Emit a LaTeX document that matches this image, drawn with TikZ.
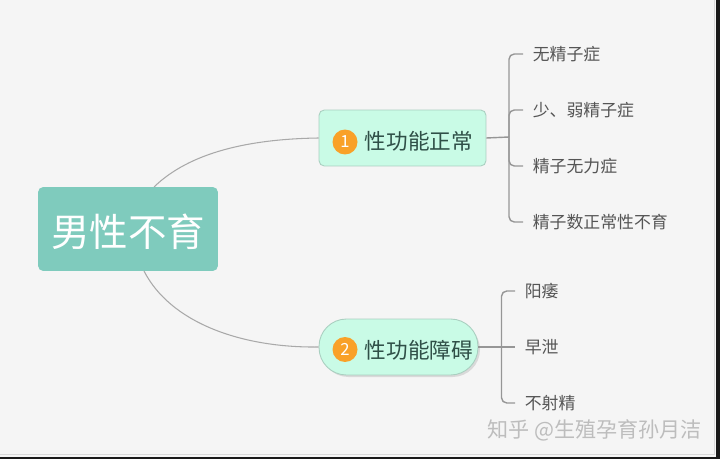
\documentclass[tikz,border=0pt]{standalone}
\usepackage{fontspec}
\setmainfont{Noto Sans CJK SC}
\usepackage{xcolor}
\definecolor{pagebg}{HTML}{F5F5F5}
\definecolor{rootfill}{HTML}{7FCBBD}
\definecolor{topicfill}{HTML}{C9FBE6}
\definecolor{topicline}{HTML}{A9CFC0}
\definecolor{badgefill}{HTML}{F9A128}
\definecolor{topictext}{HTML}{2F4F47}
\definecolor{leaftext}{HTML}{555555}
\definecolor{curveline}{HTML}{A9A9A9}
\definecolor{branchline}{HTML}{969696}
\tikzset{
rootbox/.style={fill=rootfill,rounded corners=3pt,minimum width=3.6cm,minimum height=1.68cm,inner sep=0pt},
roottext/.style={inner sep=0pt,text=white,font=\fontsize{21.9}{21.9}\selectfont},
topicbox/.style={fill=topicfill,draw=topicline,line width=0.5pt,minimum width=3.34cm,minimum height=1.12cm,inner sep=0pt},
topiclabel/.style={anchor=west,inner sep=0pt,text=topictext,font=\fontsize{12.3}{12.3}\selectfont},
badge/.style={circle,fill=badgefill,minimum size=0.5cm,inner sep=0pt,text=white,font=\fontsize{9.5}{9.5}\selectfont},
leaf/.style={anchor=west,inner ysep=0pt,inner xsep=0.19cm,text=leaftext,font=\fontsize{9.6}{9.6}\selectfont},
curve/.style={draw=curveline,line width=0.6pt},
branch/.style={draw=branchline,line width=0.8pt,rounded corners=3pt},
}
\begin{document}
\begin{tikzpicture}[x=0.02cm,y=-0.02cm]
\useasboundingbox (0,0) rectangle (720,459);
\fill[pagebg] (0,0) rectangle (720,459);
\draw[black!15,line width=0.6pt] (714.5,0) -- (714.5,454.5) -- (0,454.5);
\fill[black!90] (0,456.5) rectangle (720,459);
\fill[black!90] (716,0) rectangle (720,459);

\node[rootbox] (root) at (128,229) {};
\node[roottext] (roottitle) at (128,232) {男性不育};

\node[topicbox,rounded corners=3pt] (normal) at (402.5,138) {};
\node[badge] (badgeone) at (345,142) {1};
\node[topiclabel] (normaltext) at (364.5,141) {性功能正常};

\fill[black!35,opacity=0.35,rounded corners=0.55cm] (321,322) rectangle (480,377);
\node[topicbox,rounded corners=0.55cm,minimum width=3.18cm] (fail) at (398.5,347) {};
\node[badge] (badgetwo) at (345,349.5) {2};
\node[topiclabel] (failtext) at (364.5,350) {性功能障碍};

\node[leaf] (wu) at (523,54) {无精子症};
\node[leaf] (shao) at (523,110) {少、弱精子症};
\node[leaf] (wuli) at (523,166) {精子无力症};
\node[leaf] (shu) at (523,222) {精子数正常性不育};

\node[leaf] (yang) at (515,291) {阳痿};
\node[leaf] (zao) at (515,347) {早泄};
\node[leaf] (bu) at (515,403) {不射精};

\coordinate (rootup) at (154,187);
\coordinate (rootdown) at (144,271);
\coordinate (jointone) at (509,137);
\coordinate (jointtwo) at (501.5,347);

\draw[curve] (rootup) .. controls (190,152) and (250,139) .. (normal.west);
\draw[curve] (rootdown) .. controls (170,322) and (240,348) .. (fail.west);

\draw[branch] (normal.east) -- (jointone);
\foreach\n in {wu,shao,wuli,shu}{
	\draw[branch] (jointone) |- (\n.west);}

\draw[branch] (fail.east) -- (zao.west);
\foreach\n in {yang,bu}{
	\draw[branch] (jointtwo) |- (\n.west);}

\node[anchor=east,inner sep=0pt,text=white!74!black,font=\fontsize{12}{12}\selectfont] (mark) at (702,430) {知乎 @生殖孕育孙月洁};
\end{tikzpicture}
\end{document}
